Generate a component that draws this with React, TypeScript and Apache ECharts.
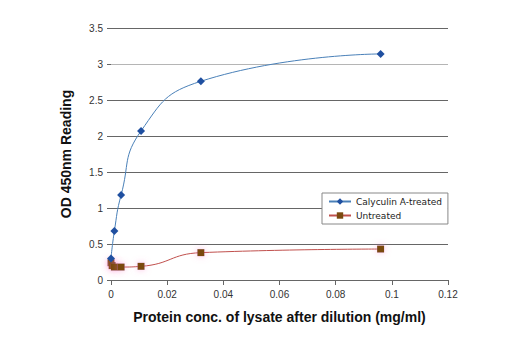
import React, { useEffect, useRef } from "react";
import * as echarts from "echarts";

const calyX = [0, 0.0012, 0.0036, 0.0107, 0.032, 0.096];
const calyY = [0.3, 0.68, 1.18, 2.07, 2.76, 3.14];
const untrX = [0, 0.0004, 0.0012, 0.0036, 0.0107, 0.032, 0.096];
const untrY = [0.24, 0.2, 0.18, 0.18, 0.19, 0.38, 0.43];
const seriesNames = ["Calyculin A-treated", "Untreated"];

export default function App() {
  const ref = useRef<HTMLDivElement>(null);
  useEffect(() => {
    if (!ref.current) return;
    const chart = echarts.init(ref.current, undefined, { renderer: "svg" });
    const axisFont = { fontFamily: "Liberation Sans, Arial, sans-serif", fontSize: 10, color: "#333" };
    chart.setOption({
      animation: false,
      backgroundColor: "#fff",
      grid: { left: 111, right: 72, top: 28, bottom: 70 },
      legend: {
        orient: "vertical",
        left: 322,
        top: 193,
        itemWidth: 22,
        itemHeight: 8,
        itemGap: 5,
        padding: [4, 6, 4, 6],
        borderColor: "#888",
        borderWidth: 1,
        backgroundColor: "#fff",
        textStyle: { fontFamily: "DejaVu Sans, Verdana, sans-serif", fontSize: 9, color: "#222" },
        data: seriesNames,
      },
      xAxis: {
        type: "value",
        min: 0,
        max: 0.12,
        interval: 0.02,
        name: "Protein conc. of lysate after dilution (mg/ml)",
        nameLocation: "middle",
        nameGap: 30,
        nameTextStyle: {
          fontFamily: "Liberation Sans Narrow, Liberation Sans, Arial, sans-serif",
          fontWeight: "bold",
          fontSize: 14,
          color: "#111",
        },
        axisLine: { show: true, lineStyle: { color: "#666", width: 1 } },
        axisTick: { show: true, length: 5, lineStyle: { color: "#666" } },
        axisLabel: { ...axisFont, margin: 9 },
        splitLine: { show: false },
      },
      yAxis: {
        type: "value",
        min: 0,
        max: 3.5,
        interval: 0.5,
        name: "OD 450nm Reading",
        nameLocation: "middle",
        nameGap: 38,
        nameTextStyle: {
          fontFamily: "Liberation Sans Narrow, Liberation Sans, Arial, sans-serif",
          fontWeight: "bold",
          fontSize: 14,
          color: "#111",
        },
        axisLine: { show: false },
        axisTick: { show: true, length: 4, lineStyle: { color: "#666" } },
        axisLabel: { ...axisFont, margin: 8 },
        splitLine: {
          show: true,
          lineStyle: {
            color: ["#666", "#666", "#666", "#666", "#666", "#666", "#b5b5b5", "#666"],
            width: 1,
          },
        },
      },
      series: [
        {
          name: seriesNames[0],
          type: "line",
          smooth: true,
          data: calyX.map((x, i) => [x, calyY[i]]),
          symbol: "diamond",
          symbolSize: 8,
          itemStyle: { color: "#1f4fa0" },
          lineStyle: { color: "#4a80b8", width: 1 },
          z: 3,
        },
        {
          name: seriesNames[1],
          type: "line",
          smooth: true,
          data: untrX.map((x, i) => [x, untrY[i]]),
          symbol: "rect",
          symbolSize: 7,
          itemStyle: { color: "#7a4a10", shadowColor: "rgba(255,120,200,0.5)", shadowBlur: 6 },
          lineStyle: { color: "#c0504d", width: 1 },
          z: 2,
        },
      ],
    });
    return () => chart.dispose();
  }, []);
  return <div ref={ref} style={{ width: 520, height: 350, margin: -8 }} />;
}
